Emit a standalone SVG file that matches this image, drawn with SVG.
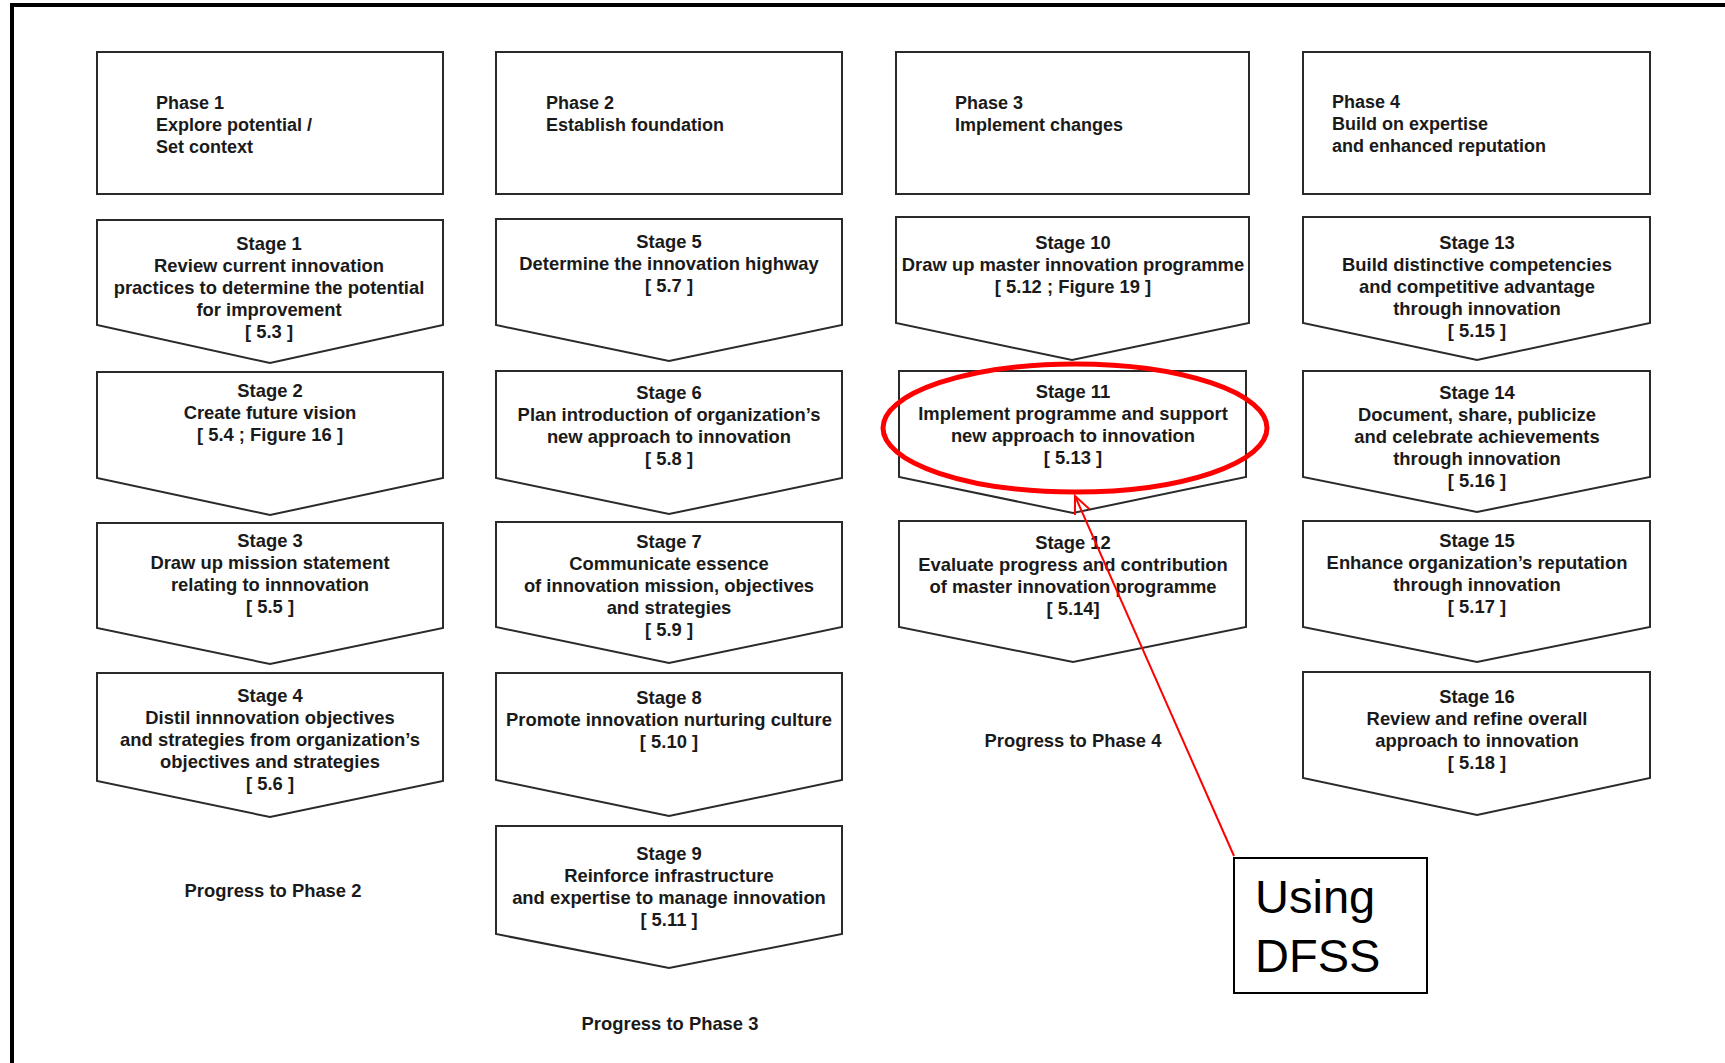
<svg xmlns="http://www.w3.org/2000/svg" width="1725" height="1063" viewBox="0 0 1725 1063">
<style>
.bx{fill:#fff;stroke:#2a2a2a;stroke-width:2}
.t{font-family:"Liberation Sans",Arial,sans-serif;font-weight:bold;font-size:18px;fill:#1a1a1a}
.c{text-anchor:middle;font-size:18.4px}
.big{font-family:"Liberation Sans",Arial,sans-serif;font-size:47px;fill:#000}
</style>
<defs>
<marker id="oa" markerWidth="20" markerHeight="20" refX="18" refY="8" orient="auto" markerUnits="userSpaceOnUse">
<path d="M0,0 L18,8 L0,16" fill="none" stroke="#ff0000" stroke-width="2"/>
</marker>
</defs>
<rect width="1725" height="1063" fill="#fff"/>
<path d="M12,1063 V5 H1725" fill="none" stroke="#000" stroke-width="4"/>

<g id="phase1"><rect class="bx" x="97" y="52" width="346" height="142"/>
<text class="t" x="156" y="109">Phase 1</text><text class="t" x="156" y="131">Explore potential /</text><text class="t" x="156" y="153">Set context</text></g>
<g id="phase2"><rect class="bx" x="496" y="52" width="346" height="142"/>
<text class="t" x="546" y="109">Phase 2</text><text class="t" x="546" y="131">Establish foundation</text></g>
<g id="phase3"><rect class="bx" x="896" y="52" width="353" height="142"/>
<text class="t" x="955" y="109">Phase 3</text><text class="t" x="955" y="131">Implement changes</text></g>
<g id="phase4"><rect class="bx" x="1303" y="52" width="347" height="142"/>
<text class="t" x="1332" y="108">Phase 4</text><text class="t" x="1332" y="130">Build on expertise</text><text class="t" x="1332" y="152">and enhanced reputation</text></g>

<g id="stage1"><polygon class="bx" points="97,220 443,220 443,325 270,363 97,325"/>
<text class="t c" x="269" y="250">Stage 1</text><text class="t c" x="269" y="272">Review current innovation</text><text class="t c" x="269" y="294">practices to determine the potential</text><text class="t c" x="269" y="316">for improvement</text><text class="t c" x="269" y="338">[ 5.3 ]</text></g>
<g id="stage2"><polygon class="bx" points="97,372 443,372 443,478 270,515 97,478"/>
<text class="t c" x="270" y="397">Stage 2</text><text class="t c" x="270" y="419">Create future vision</text><text class="t c" x="270" y="441">[ 5.4 ; Figure 16 ]</text></g>
<g id="stage3"><polygon class="bx" points="97,523 443,523 443,628 270,664 97,628"/>
<text class="t c" x="270" y="547">Stage 3</text><text class="t c" x="270" y="569">Draw up mission statement</text><text class="t c" x="270" y="591">relating to innnovation</text><text class="t c" x="270" y="613">[ 5.5 ]</text></g>
<g id="stage4"><polygon class="bx" points="97,673 443,673 443,781 270,817 97,781"/>
<text class="t c" x="270" y="702">Stage 4</text><text class="t c" x="270" y="724">Distil innnovation objectives</text><text class="t c" x="270" y="746">and strategies from organization’s</text><text class="t c" x="270" y="768">objectives and strategies</text><text class="t c" x="270" y="790">[ 5.6 ]</text></g>
<g id="progress2"><text class="t c" x="273" y="897">Progress to Phase 2</text></g>

<g id="stage5"><polygon class="bx" points="496,219 842,219 842,325 669,361 496,325"/>
<text class="t c" x="669" y="248">Stage 5</text><text class="t c" x="669" y="270">Determine the innovation highway</text><text class="t c" x="669" y="292">[ 5.7 ]</text></g>
<g id="stage6"><polygon class="bx" points="496,371 842,371 842,478 669,514 496,478"/>
<text class="t c" x="669" y="399">Stage 6</text><text class="t c" x="669" y="421">Plan introduction of organization’s</text><text class="t c" x="669" y="443">new approach to innovation</text><text class="t c" x="669" y="465">[ 5.8 ]</text></g>
<g id="stage7"><polygon class="bx" points="496,522 842,522 842,627 669,663 496,627"/>
<text class="t c" x="669" y="548">Stage 7</text><text class="t c" x="669" y="570">Communicate essence</text><text class="t c" x="669" y="592">of innovation mission, objectives</text><text class="t c" x="669" y="614">and strategies</text><text class="t c" x="669" y="636">[ 5.9 ]</text></g>
<g id="stage8"><polygon class="bx" points="496,673 842,673 842,780 669,816 496,780"/>
<text class="t c" x="669" y="704">Stage 8</text><text class="t c" x="669" y="726">Promote innovation nurturing culture</text><text class="t c" x="669" y="748">[ 5.10 ]</text></g>
<g id="stage9"><polygon class="bx" points="496,826 842,826 842,934 669,968 496,934"/>
<text class="t c" x="669" y="860">Stage 9</text><text class="t c" x="669" y="882">Reinforce infrastructure</text><text class="t c" x="669" y="904">and expertise to manage innovation</text><text class="t c" x="669" y="926">[ 5.11 ]</text></g>
<g id="progress3"><text class="t c" x="670" y="1030">Progress to Phase 3</text></g>

<g id="stage10"><polygon class="bx" points="896,217 1249,217 1249,323 1072,360 896,323"/>
<text class="t c" x="1073" y="249">Stage 10</text><text class="t c" x="1073" y="271">Draw up master innovation programme</text><text class="t c" x="1073" y="293">[ 5.12 ; Figure 19 ]</text></g>
<g id="stage11"><polygon class="bx" points="899,371 1246,371 1246,477 1073,513 899,477"/>
<text class="t c" x="1073" y="398">Stage 11</text><text class="t c" x="1073" y="420">Implement programme and support</text><text class="t c" x="1073" y="442">new approach to innovation</text><text class="t c" x="1073" y="464">[ 5.13 ]</text></g>
<g id="stage12"><polygon class="bx" points="899,521 1246,521 1246,627 1073,662 899,627"/>
<text class="t c" x="1073" y="549">Stage 12</text><text class="t c" x="1073" y="571">Evaluate progress and contribution</text><text class="t c" x="1073" y="593">of master innovation programme</text><text class="t c" x="1073" y="615">[ 5.14]</text></g>
<g id="progress4"><text class="t c" x="1073" y="747">Progress to Phase 4</text></g>

<g id="stage13"><polygon class="bx" points="1303,217 1650,217 1650,323 1477,360 1303,323"/>
<text class="t c" x="1477" y="249">Stage 13</text><text class="t c" x="1477" y="271">Build distinctive competencies</text><text class="t c" x="1477" y="293">and competitive advantage</text><text class="t c" x="1477" y="315">through innovation</text><text class="t c" x="1477" y="337">[ 5.15 ]</text></g>
<g id="stage14"><polygon class="bx" points="1303,371 1650,371 1650,477 1477,512 1303,477"/>
<text class="t c" x="1477" y="399">Stage 14</text><text class="t c" x="1477" y="421">Document, share, publicize</text><text class="t c" x="1477" y="443">and celebrate achievements</text><text class="t c" x="1477" y="465">through innovation</text><text class="t c" x="1477" y="487">[ 5.16 ]</text></g>
<g id="stage15"><polygon class="bx" points="1303,521 1650,521 1650,627 1477,662 1303,627"/>
<text class="t c" x="1477" y="547">Stage 15</text><text class="t c" x="1477" y="569">Enhance organization’s reputation</text><text class="t c" x="1477" y="591">through innovation</text><text class="t c" x="1477" y="613">[ 5.17 ]</text></g>
<g id="stage16"><polygon class="bx" points="1303,672 1650,672 1650,778 1477,815 1303,778"/>
<text class="t c" x="1477" y="703">Stage 16</text><text class="t c" x="1477" y="725">Review and refine overall</text><text class="t c" x="1477" y="747">approach to innovation</text><text class="t c" x="1477" y="769">[ 5.18 ]</text></g>

<g id="highlight"><ellipse cx="1075" cy="428" rx="192" ry="64" fill="none" stroke="#ff0000" stroke-width="5"/></g>
<g id="dfss"><rect x="1234" y="858" width="193" height="135" fill="#fff" stroke="#000" stroke-width="2"/>
<text class="big" x="1255" y="913">Using</text><text class="big" x="1255" y="972">DFSS</text></g>
<g id="connectors"><line x1="1234" y1="856" x2="1075" y2="496" stroke="#ff0000" stroke-width="2" marker-end="url(#oa)"/></g>
</svg>
